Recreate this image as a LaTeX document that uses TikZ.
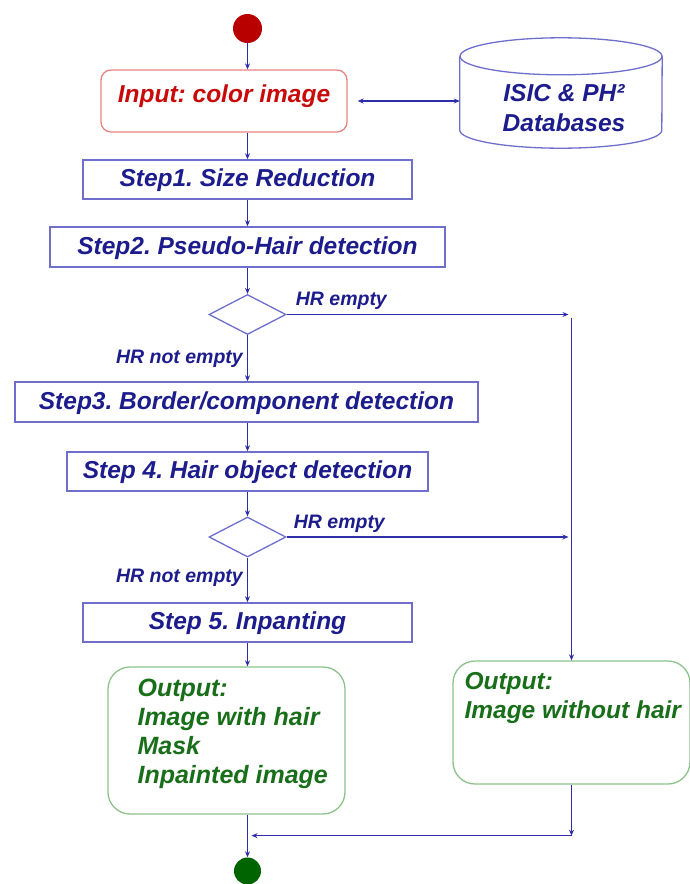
\documentclass[tikz,border=0pt]{standalone}
\usepackage{fontspec}
\setmainfont{Liberation Sans}
\usetikzlibrary{arrows.meta,shapes.geometric,calc}
\frenchspacing

\definecolor{lineblue}{RGB}{45,45,170}
\definecolor{boxblue}{RGB}{110,110,205}
\definecolor{txtblue}{RGB}{28,28,140}
\definecolor{txtred}{RGB}{200,10,10}
\definecolor{boxred}{RGB}{232,130,130}
\definecolor{txtgreen}{RGB}{25,110,25}
\definecolor{boxgreen}{RGB}{140,195,140}
\definecolor{startred}{RGB}{185,0,0}
\definecolor{endgreen}{RGB}{0,100,0}

\tikzset{
  bigfont/.style={font=\bfseries\itshape\fontsize{25}{29.3}\selectfont},
  stepfont/.style={font=\bfseries\itshape\fontsize{24.5}{29}\selectfont},
  smallfont/.style={font=\bfseries\itshape\fontsize{19.5}{23}\selectfont},
  stepbox/.style={rectangle, draw=boxblue, line width=1.5pt, inner sep=0pt,
    stepfont, text=txtblue, text height=18pt, text depth=4pt},
  inbox/.style={rectangle, rounded corners=10pt, draw=boxred, line width=1.3pt,
    inner sep=0pt, stepfont, text=txtred, text height=18pt, text depth=16pt},
  outbox/.style={rectangle, rounded corners=22pt, draw=boxgreen, line width=1.3pt,
    inner sep=0pt},
  outtext/.style={anchor=north west, inner sep=0pt, bigfont, text=txtgreen,
    align=left},
  decision/.style={diamond, draw=boxblue, line width=1.3pt, inner sep=0pt},
  dot/.style={circle, inner sep=0pt},
  dbline/.style={draw=boxblue, line width=1.3pt},
  flow/.style={draw=lineblue, line width=1.1pt,
    -{Stealth[length=6pt,width=5pt]}},
  flowboth/.style={draw=lineblue, line width=1.1pt,
    {Stealth[length=6pt,width=5pt]}-{Stealth[length=6pt,width=5pt]}},
  branch/.style={smallfont, text=txtblue, inner sep=0pt},
}

\begin{document}
\begin{tikzpicture}[x=1pt, y=-1pt]
\useasboundingbox (0,0) rectangle (689,884);

% start and end markers
\node[dot, fill=startred, minimum size=29pt] (start) at (247.5,28.5) {};
\node[dot, fill=endgreen, minimum size=27pt] (end) at (247.5,871) {};

% input image and database
\node[inbox, minimum width=246pt, minimum height=62pt] (input) at (224,101)
  {Input: color image};
\node[minimum width=202pt, minimum height=110pt, inner sep=0pt] (db) at (561,93) {};
\draw[dbline] ($(db.north)+(0,18.5)$) ellipse [x radius=101pt, y radius=18.5pt];
\draw[dbline] ($(db.north west)+(0,18.5)$) -- ($(db.south west)+(0,-18)$)
  arc[start angle=180, end angle=360, x radius=101pt, y radius=18pt]
  -- ($(db.north east)+(0,18.5)$);
\node[anchor=north, inner sep=0pt, text=txtblue, align=center,
  font=\bfseries\itshape\fontsize{24.5}{30}\selectfont]
  (dbtext) at ($(db.north)+(3,46)$) {ISIC \& PH²\\Databases};

% processing steps
\node[stepbox, minimum width=329pt, minimum height=39pt] (s1) at (247.5,179.5)
  {Step1. Size Reduction};
\node[stepbox, minimum width=395pt, minimum height=40pt] (s2) at (247.5,247)
  {Step2. Pseudo-Hair detection};
\node[decision, minimum width=77pt, minimum height=40pt] (d1) at (247.5,314.5) {};
\node[stepbox, minimum width=463pt, minimum height=40pt] (s3) at (246.5,402)
  {Step3. Border/component detection};
\node[stepbox, minimum width=361pt, minimum height=39pt] (s4) at (247.5,471.5)
  {Step 4. Hair object detection};
\node[decision, minimum width=77pt, minimum height=40pt] (d2) at (247.5,537) {};
\node[stepbox, minimum width=329pt, minimum height=39pt] (s5) at (247.5,622.5)
  {Step 5. Inpanting};

% outputs
\node[outbox, minimum width=237pt, minimum height=147pt] (out1) at (226.5,740.5) {};
\node[outtext] (out1text) at ($(out1.north west)+(30,12)$)
  {Output:\\Image with hair\\Mask\\Inpainted image};
\node[outbox, minimum width=237pt, minimum height=123pt] (out2) at (571.5,722.5) {};
\node[outtext, font=\bfseries\itshape\fontsize{24.5}{29.3}\selectfont]
  (out2text) at ($(out2.north west)+(12,12)$)
  {Output:\\Image without hair};

% main flow
\draw[flow] (start) -- (start |- input.north);
\draw[flowboth, shorten <=10pt] (input.east) -- (input.east -| db.west);
\draw[flow] (input.south -| start) -- (start |- s1.north);
\draw[flow] (s1) -- (s2);
\draw[flow] (s2) -- (d1);
\draw[flow] (d1.south) -- (d1.south |- s3.north);
\draw[flow] (s4.north |- s3.south) -- (s4.north);
\draw[flow] (s4) -- (d2);
\draw[flow] (d2) -- (s5);
\draw[flow] (s5.south) -- (s5.south |- out1.north);
\draw[flow] (out1.south -| end) -- (end);

% bypass when no hair region is found
\coordinate (r1) at (d1.east -| out2.north);
\coordinate (r2) at (d2.east -| out2.north);
\draw[flow, shorten >=3pt] (d1.east) -- (r1);
\draw[flow, shorten >=3pt] (d2.east) -- (r2);
\draw[flow] ($(r1)+(0,3)$) -- (out2.north);

\coordinate (j) at ($(out2.south)+(0,51)$);
\draw[flow] (out2.south) -- (j);
\draw[flow, shorten >=4pt] (j) -- (j -| end);

% branch labels
\node[branch, anchor=base west] (e1) at ($(d1.east)+(9,-9.5)$) {HR empty};
\node[branch, anchor=base east] (n1) at ($(d1.south)+(-4.5,28)$) {HR not empty};
\node[branch, anchor=base west] (e2) at ($(d2.east)+(7,-9)$) {HR empty};
\node[branch, anchor=base east] (n2) at ($(d2.south)+(-4.5,25)$) {HR not empty};
\end{tikzpicture}
\end{document}
